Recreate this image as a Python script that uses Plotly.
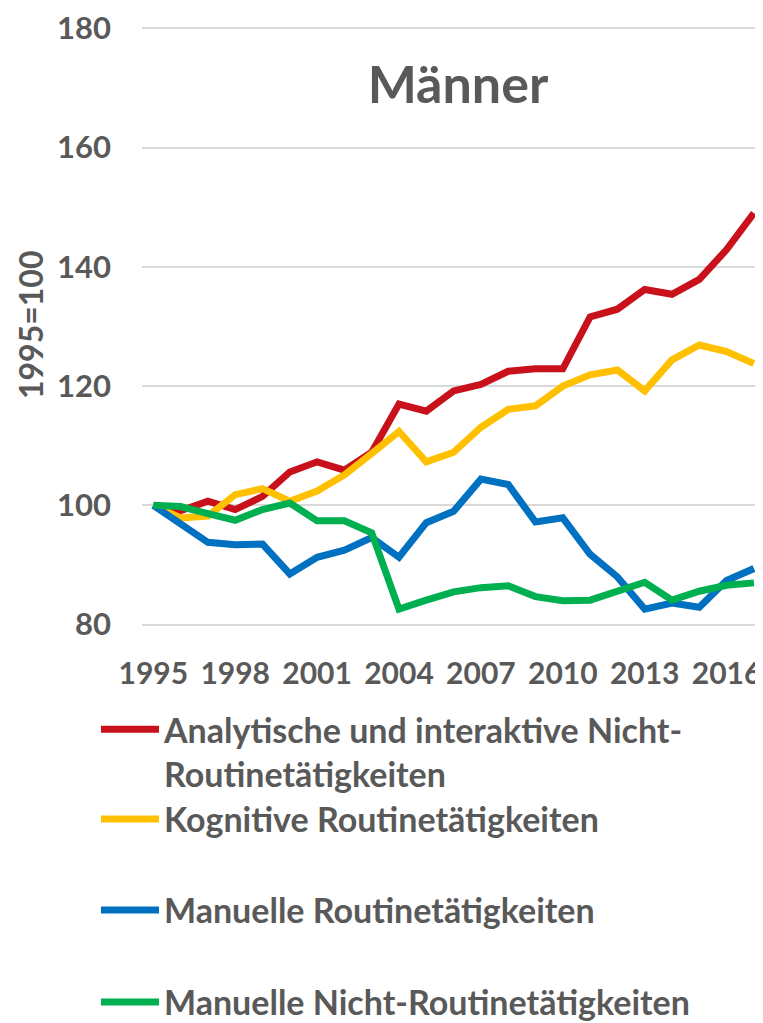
import plotly.graph_objects as go

years = list(range(1995, 2018))

analytisch = [100.0, 99.1, 100.7, 99.3, 101.5, 105.6, 107.3, 105.9, 108.9, 117.0, 115.8,
              119.2, 120.3, 122.5, 122.9, 122.9, 131.6, 132.9, 136.2, 135.4, 137.9, 142.9, 149.0]
kognitiv = [100.0, 97.9, 98.2, 101.8, 102.8, 100.7, 102.4, 105.1, 108.7, 112.4, 107.3,
            108.9, 113.1, 116.1, 116.7, 120.0, 121.9, 122.7, 119.2, 124.4, 126.9, 125.8, 123.8]
manuell_routine = [100.0, 96.8, 93.8, 93.4, 93.5, 88.5, 91.3, 92.5, 94.6, 91.3, 97.1,
                   99.0, 104.4, 103.5, 97.2, 97.9, 91.8, 88.0, 82.6, 83.6, 82.9, 87.4, 89.4]
manuell_nicht = [100.0, 99.8, 98.6, 97.5, 99.3, 100.4, 97.4, 97.4, 95.4, 82.6, 84.1,
                 85.5, 86.2, 86.5, 84.7, 84.0, 84.1, 85.6, 87.1, 84.1, 85.6, 86.6, 87.0]

names = [
    "Analytische und interaktive Nicht-<br>Routinetätigkeiten",
    "Kognitive Routinetätigkeiten",
    "Manuelle Routinetätigkeiten",
    "Manuelle Nicht-Routinetätigkeiten",
]
colors = ["#C8111B", "#FFC000", "#0070C0", "#00B050"]
series = [analytisch, kognitiv, manuell_routine, manuell_nicht]
legends = ["legend", "legend2", "legend3", "legend4"]

tick_years = list(range(1995, 2017, 3))
y_ticks = [80, 100, 120, 140, 160, 180]

FONT = "Lato, 'DejaVu Sans', sans-serif"
GREY = "#595959"

# page body has an 8px margin; figure is laid out in screen coordinates minus that
OFF = 8
W = 763 - OFF
H = 1040

# screen positions of y=80 and y=180, small pad so edge gridlines are drawn
Y80, Y180 = 625, 22
PXU = (Y80 - Y180) / 100.0
YPAD = 0.4
ymin, ymax = 80 - YPAD, 180 + YPAD
T = (Y180 - YPAD * PXU) - OFF
B = (Y80 + YPAD * PXU) - OFF
L, R = 142 - OFF, 763 - OFF


def py(p):
    return (B - (p - OFF)) / (B - T)


def px(p):
    return ((p - OFF) - L) / (R - L)


fig = go.Figure()
for name, col, vals, lg in zip(names, colors, series, legends):
    fig.add_trace(go.Scatter(
        x=years, y=vals, mode="lines", name=name,
        line=dict(color=col, width=7), legend=lg,
    ))


def leg(ypix, anchor="middle"):
    return dict(
        x=px(96), y=py(ypix), xanchor="left", yanchor=anchor,
        font=dict(family=FONT, size=34, color=GREY, weight="bold"),
        bgcolor="rgba(0,0,0,0)", itemwidth=58, valign="top",
        tracegroupgap=0, itemclick=False,
    )


# x range: 1995 at screen x 153.3, 27.3 px per year
x0 = 1995 - (153.3 - 142) / 27.3
x1 = 1995 + (763 - 153.3) / 27.3

fig.update_layout(
    width=W, height=H,
    margin=dict(l=L, r=W - R, t=T, b=H - B, pad=0),
    paper_bgcolor="white", plot_bgcolor="white",
    showlegend=True,
    title=dict(
        text="Männer", x=px(458), xref="paper", xanchor="center",
        y=1 - (85 - OFF) / H, yref="container", yanchor="middle",
        font=dict(family=FONT, size=52, color=GREY, weight="bold"),
    ),
    xaxis=dict(
        range=[x0, x1], tickvals=tick_years,
        ticktext=[str(y) for y in tick_years],
        showgrid=False, zeroline=False, showline=False, ticks="",
        tickfont=dict(family=FONT, size=30, color=GREY, weight="bold"),
        ticklabelstandoff=26, ticklabeloverflow="allow",
    ),
    yaxis=dict(
        range=[ymin, ymax], tickvals=y_ticks,
        showgrid=True, gridcolor="#D9D9D9", gridwidth=1.5,
        zeroline=False, showline=False, ticks="",
        tickfont=dict(family=FONT, size=31, color=GREY, weight="bold"),
        ticklabelstandoff=30, ticklabeloverflow="allow",
    ),
    legend=leg(702, "top"),
    legend2=leg(822),
    legend3=leg(914),
    legend4=leg(1007),
    annotations=[dict(
        text="1995=100", xref="paper", yref="paper",
        x=px(30), y=py(322), xanchor="center", yanchor="middle",
        textangle=-90, showarrow=False,
        font=dict(family=FONT, size=32, color=GREY, weight="bold"),
    )],
)

fig.write_html("out.html")
